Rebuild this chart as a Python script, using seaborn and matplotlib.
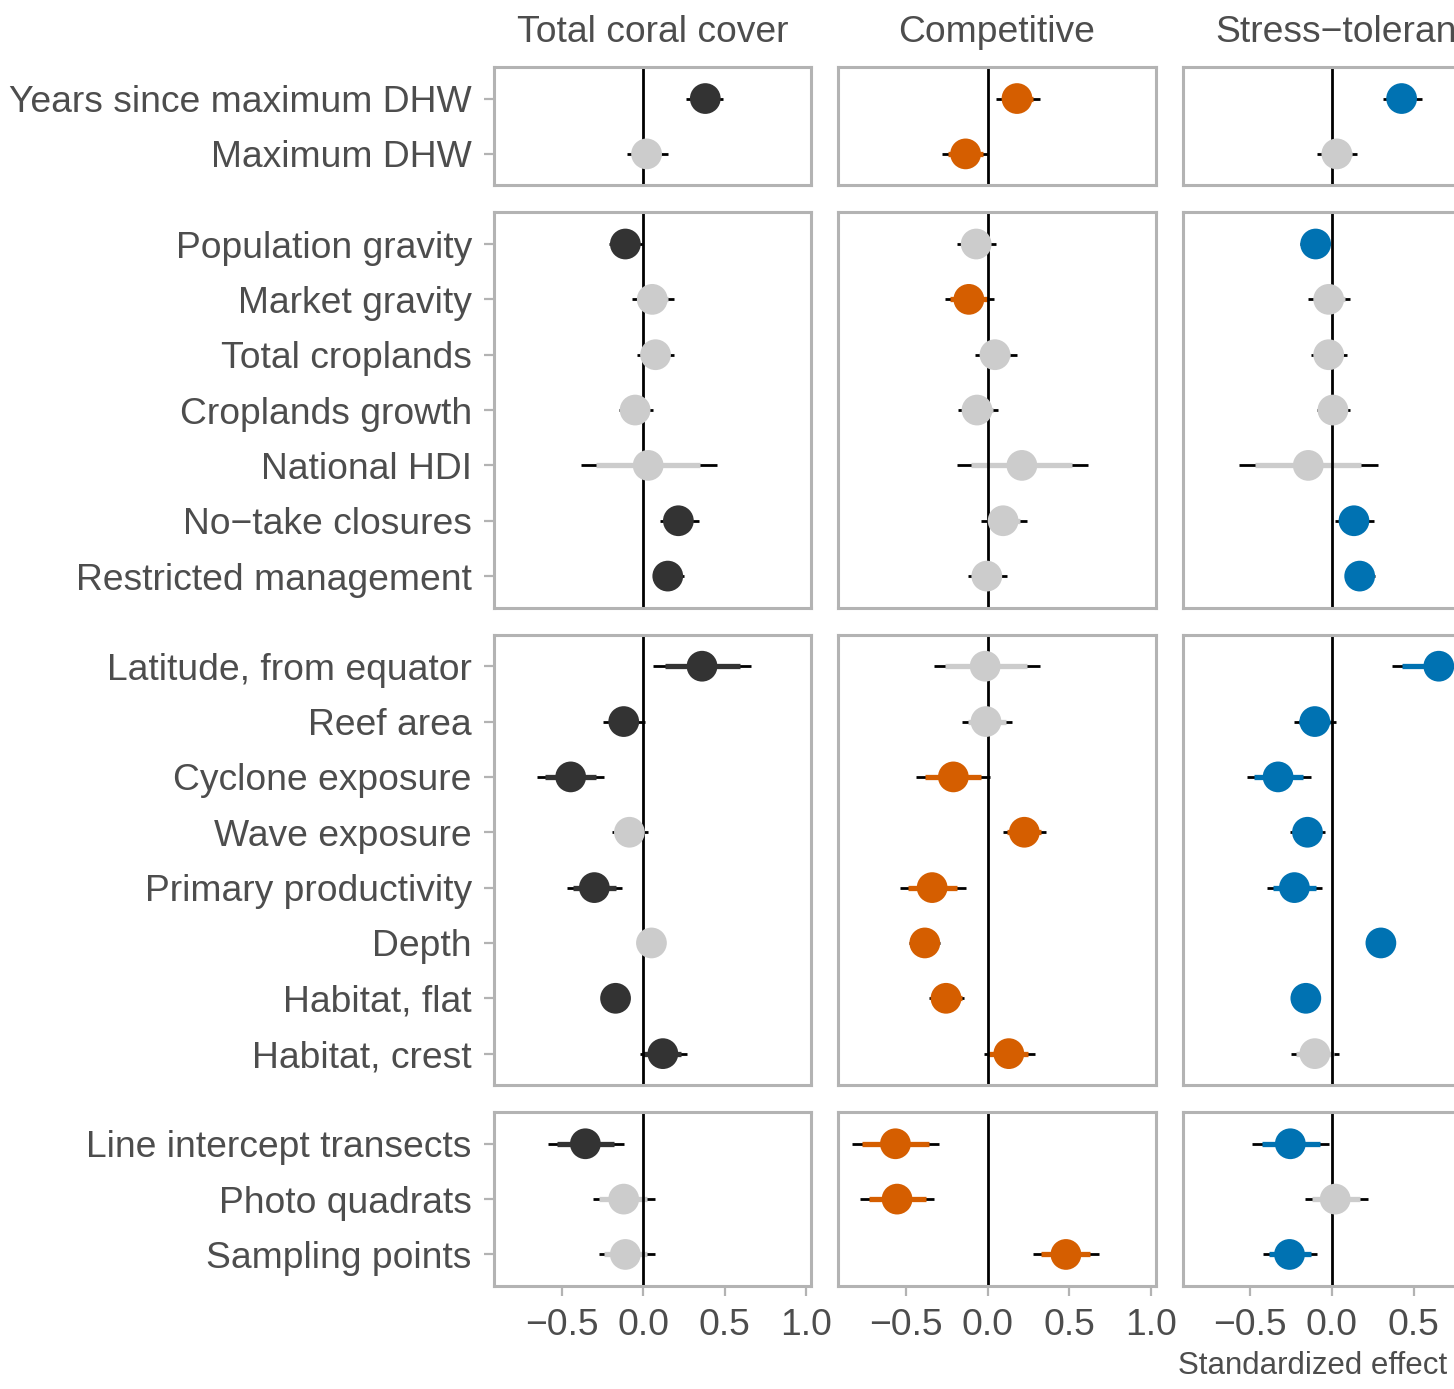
import numpy as np
import pandas as pd
import matplotlib
matplotlib.use("Agg")
import matplotlib.pyplot as plt
import seaborn as sns

# predictor groups (facet rows), top to bottom
group_vars = [
    ["Years since maximum DHW", "Maximum DHW"],
    ["Population gravity", "Market gravity", "Total croplands", "Croplands growth",
     "National HDI", "No\u2212take closures", "Restricted management"],
    ["Latitude, from equator", "Reef area", "Cyclone exposure", "Wave exposure",
     "Primary productivity", "Depth", "Habitat, flat", "Habitat, crest"],
    ["Line intercept transects", "Photo quadrats", "Sampling points"],
]

responses = ["Total coral cover", "Competitive", "Stress\u2212tolerant"]
resp_colors = ["#333333", "#D55E00", "#0072B2"]
ns_color = "#CCCCCC"

# Total coral cover
coral_est = [0.38, 0.02, -0.11, 0.055, 0.075, -0.05, 0.03, 0.215, 0.15,
             0.36, -0.12, -0.445, -0.085, -0.30, 0.05, -0.17, 0.12,
             -0.355, -0.12, -0.11]
coral_lo95 = [0.26, -0.10, -0.21, -0.07, -0.04, -0.15, -0.38, 0.10, 0.06,
              0.06, -0.25, -0.65, -0.19, -0.47, 0.01, -0.21, -0.02,
              -0.585, -0.31, -0.27]
coral_hi95 = [0.49, 0.15, 0.00, 0.19, 0.19, 0.06, 0.45, 0.34, 0.25,
              0.66, 0.01, -0.24, 0.03, -0.13, 0.09, -0.13, 0.27,
              -0.12, 0.07, 0.07]
coral_lo80 = [0.30, -0.06, -0.18, -0.03, 0.00, -0.12, -0.29, 0.14, 0.09,
              0.13, -0.21, -0.60, -0.16, -0.43, 0.02, -0.20, 0.00,
              -0.53, -0.27, -0.24]
coral_hi80 = [0.46, 0.11, -0.04, 0.15, 0.15, 0.03, 0.35, 0.30, 0.21,
              0.59, -0.03, -0.29, 0.00, -0.17, 0.08, -0.14, 0.23,
              -0.18, 0.02, 0.02]
coral_sig = [1, 0, 1, 0, 0, 0, 0, 1, 1,
             1, 1, 1, 0, 1, 0, 1, 1,
             1, 0, 0]

# Competitive
comp_est = [0.18, -0.135, -0.07, -0.115, 0.045, -0.065, 0.21, 0.095, -0.005,
            -0.015, -0.01, -0.21, 0.225, -0.34, -0.385, -0.255, 0.13,
            -0.565, -0.555, 0.48]
comp_lo95 = [0.05, -0.28, -0.19, -0.26, -0.08, -0.18, -0.19, -0.04, -0.12,
             -0.33, -0.16, -0.44, 0.095, -0.54, -0.48, -0.36, -0.025,
             -0.83, -0.78, 0.28]
comp_hi95 = [0.32, 0.00, 0.05, 0.04, 0.18, 0.065, 0.615, 0.24, 0.12,
             0.32, 0.15, 0.015, 0.36, -0.135, -0.29, -0.145, 0.29,
             -0.295, -0.33, 0.685]
comp_lo80 = [0.09, -0.24, -0.15, -0.23, -0.04, -0.14, -0.10, 0.00, -0.08,
             -0.26, -0.12, -0.385, 0.12, -0.49, -0.47, -0.34, 0.005,
             -0.77, -0.73, 0.33]
comp_hi80 = [0.28, -0.03, 0.01, 0.00, 0.14, 0.03, 0.52, 0.20, 0.08,
             0.24, 0.11, -0.04, 0.33, -0.185, -0.30, -0.16, 0.25,
             -0.36, -0.38, 0.63]
comp_sig = [1, 1, 0, 1, 0, 0, 0, 0, 0,
            0, 0, 1, 1, 1, 1, 1, 1,
            1, 1, 1]

# Stress-tolerant
stress_est = [0.427, 0.03, -0.10, -0.02, -0.02, 0.006, -0.145, 0.135, 0.17,
              0.655, -0.105, -0.33, -0.15, -0.23, 0.30, -0.16, -0.105,
              -0.255, 0.02, -0.26]
stress_lo95 = [0.315, -0.09, -0.195, -0.145, -0.13, -0.09, -0.57, 0.02, 0.08,
               0.37, -0.23, -0.52, -0.255, -0.395, 0.25, -0.20, -0.25,
               -0.49, -0.165, -0.42]
stress_hi95 = [0.55, 0.155, -0.01, 0.11, 0.09, 0.11, 0.28, 0.255, 0.265,
               0.95, 0.025, -0.13, -0.04, -0.06, 0.35, -0.12, 0.045,
               -0.02, 0.22, -0.09]
stress_lo80 = [0.35, -0.06, -0.17, -0.11, -0.10, -0.06, -0.47, 0.05, 0.10,
               0.43, -0.20, -0.475, -0.23, -0.36, 0.26, -0.19, -0.22,
               -0.43, -0.12, -0.385]
stress_hi80 = [0.51, 0.12, -0.03, 0.08, 0.06, 0.08, 0.18, 0.22, 0.24,
               0.88, -0.01, -0.175, -0.07, -0.10, 0.34, -0.13, 0.01,
               -0.075, 0.17, -0.13]
stress_sig = [1, 0, 1, 0, 0, 0, 0, 1, 1,
              1, 1, 1, 1, 1, 1, 1, 0,
              1, 0, 1]

xticks = [-0.5, 0.0, 0.5, 1.0]

# long table
variables, groups, positions = [], [], []
for gi, vs in enumerate(group_vars):
    for pi, v in enumerate(vs):
        variables.append(v)
        groups.append(gi)
        positions.append(pi)

series = [
    (coral_est, coral_lo95, coral_hi95, coral_lo80, coral_hi80, coral_sig),
    (comp_est, comp_lo95, comp_hi95, comp_lo80, comp_hi80, comp_sig),
    (stress_est, stress_lo95, stress_hi95, stress_lo80, stress_hi80, stress_sig),
]
frames = []
for resp, col, (est, lo95, hi95, lo80, hi80, sig) in zip(responses, resp_colors, series):
    frames.append(pd.DataFrame({
        "response": resp, "variable": variables, "group": groups, "pos": positions,
        "est": est, "lo95": lo95, "hi95": hi95, "lo80": lo80, "hi80": hi80,
        "sig": ["sig" if s else "ns" for s in sig],
        "color": [col if s else ns_color for s in sig],
    }))
df = pd.concat(frames, ignore_index=True)

sns.set_style("white")
plt.rcParams["font.family"] = ["Liberation Sans", "DejaVu Sans"]

text_col = "#4D4D4D"
frame_col = "#B3B3B3"
fs = 26.8

W, H = 1454, 1389
fig = plt.figure(figsize=(W / 100, H / 100), dpi=100)
sizes = [len(v) for v in group_vars]
gs = fig.add_gridspec(
    4, 3, left=494 / W, right=1500 / W, top=1 - 67 / H, bottom=1 - 1286 / H,
    wspace=0.085, hspace=0.095, height_ratios=[n + 0.14 for n in sizes])

for gi, vs in enumerate(group_vars):
    for ri, resp in enumerate(responses):
        ax = fig.add_subplot(gs[gi, ri])
        sub = df[(df.group == gi) & (df.response == resp)]
        ax.hlines(sub.pos, sub.lo95, sub.hi95, color="black", lw=2.0,
                  capstyle="butt", zorder=1)
        ax.hlines(sub.pos, sub.lo80, sub.hi80, colors=list(sub.color), lw=3.8,
                  capstyle="butt", zorder=2)
        ax.axvline(0, color="black", lw=2.0, zorder=2.5)
        sns.scatterplot(data=sub, x="est", y="pos", hue="sig",
                        palette={"sig": resp_colors[ri], "ns": ns_color},
                        s=490, linewidth=0, legend=False, ax=ax, zorder=3)
        ax.set_xlim(-0.915, 1.03)
        ax.set_ylim(len(vs) - 1 + 0.57, -0.57)
        ax.set_xlabel("")
        ax.set_ylabel("")
        for sp in ax.spines.values():
            sp.set_visible(True)
            sp.set_color(frame_col)
            sp.set_linewidth(2.2)
        ax.set_yticks(range(len(vs)))
        ax.set_yticklabels(vs)
        ax.set_xticks(xticks)
        ax.set_xticklabels(["\u22120.5", "0.0", "0.5", "1.0"])
        ax.tick_params(axis="both", colors=frame_col, labelcolor=text_col,
                       labelsize=fs, length=7, width=1.6)
        ax.tick_params(axis="y", pad=9)
        ax.tick_params(axis="x", pad=8.5)
        if ri > 0:
            ax.tick_params(axis="y", left=False, labelleft=False)
        else:
            ax.tick_params(axis="y", left=True, labelleft=True)
        if gi < len(group_vars) - 1:
            ax.tick_params(axis="x", bottom=False, labelbottom=False)
        else:
            ax.tick_params(axis="x", bottom=True, labelbottom=True)
        if gi == 0:
            ax.set_title(resp, fontsize=fs, color=text_col, pad=18)

fig.text(1447 / W, 1 - 1366 / H, "Standardized effect", ha="right", va="center",
         fontsize=22.5, color=text_col)

fig.savefig("out.png", dpi=100)
